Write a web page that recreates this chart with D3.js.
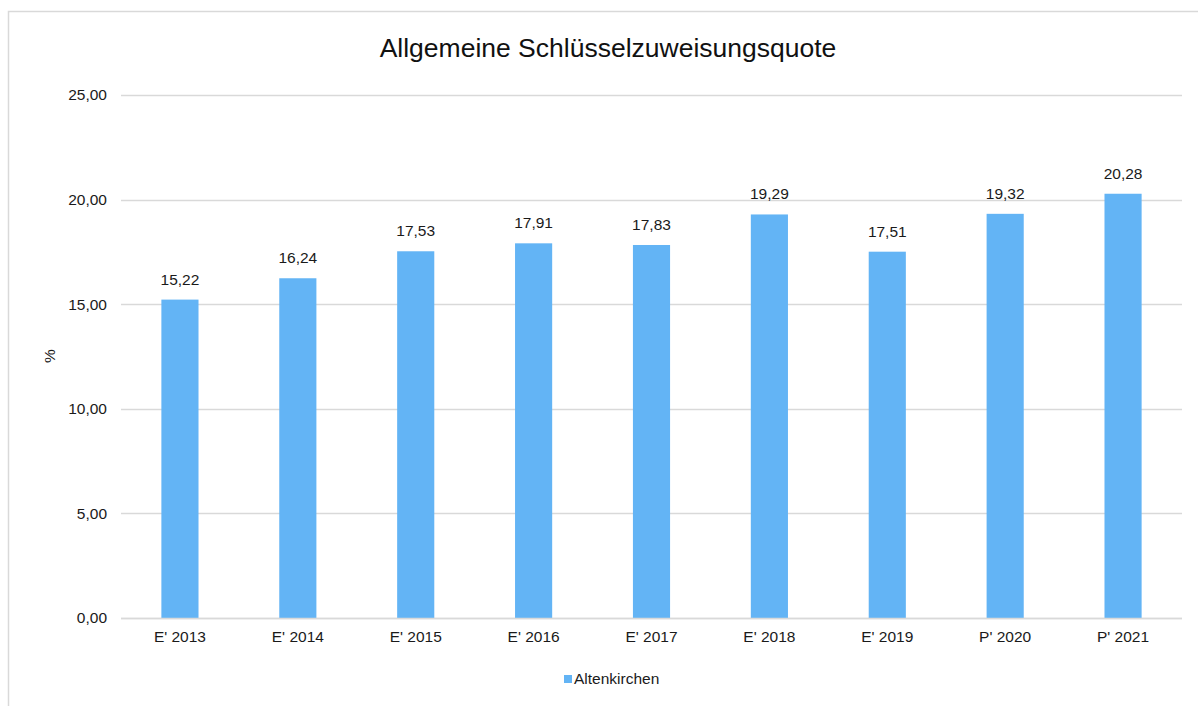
<!DOCTYPE html>
<html>
<head>
<meta charset="utf-8">
<script src="https://cdn.jsdelivr.net/npm/d3@7"></script>
<style>
  html, body { margin: 0; padding: 0; background: #fff; }
  svg { display: block; font-family: "Liberation Sans", Arial, sans-serif; }
</style>
</head>
<body>
<svg id="chart" width="1198" height="706"></svg>
<script>
// Allgemeine Schlüsselzuweisungsquote, Altenkirchen
const categories = ["E' 2013", "E' 2014", "E' 2015", "E' 2016", "E' 2017", "E' 2018", "E' 2019", "P' 2020", "P' 2021"];
const values = [15.22, 16.24, 17.53, 17.91, 17.83, 19.29, 17.51, 19.32, 20.28];
const yTicks = [0, 5, 10, 15, 20, 25];
const seriesName = "Altenkirchen";
const titleText = "Allgemeine Schlüsselzuweisungsquote";
const yAxisTitle = "%";

const svg = d3.select("#chart");
const W = 1198, H = 706;
const barColor = "#63b4f5";
const gridColor = "#d9d9d9";
const textColor = "#1a1a1a";
const labelSize = 15.5;
const fmt = v => v.toFixed(2).replace(".", ",");

// outer frame
svg.append("rect")
  .attr("x", 8.5).attr("y", 11.5)
  .attr("width", W + 10).attr("height", H)
  .attr("fill", "#fff").attr("stroke", gridColor).attr("stroke-width", 1.5);

const plot = { left: 121, right: 1182, top: 95, bottom: 618 };

const x = d3.scaleBand().domain(categories).range([plot.left, plot.right]).padding(0);
const y = d3.scaleLinear().domain([0, 25]).range([plot.bottom, plot.top]);
const barW = x.bandwidth() * 0.315;

// gridlines
svg.append("g").selectAll("line").data(yTicks).join("line")
  .attr("x1", plot.left).attr("x2", plot.right)
  .attr("y1", d => Math.round(y(d)) + 0.5).attr("y2", d => Math.round(y(d)) + 0.5)
  .attr("stroke", gridColor).attr("stroke-width", 1.3);

// y tick labels
svg.append("g").selectAll("text").data(yTicks).join("text")
  .attr("x", 107).attr("y", d => y(d))
  .attr("dy", "0.35em").attr("text-anchor", "end")
  .attr("font-size", labelSize).attr("fill", textColor)
  .text(fmt);

// bars
svg.append("g").selectAll("rect").data(values).join("rect")
  .attr("x", (d, i) => x(categories[i]) + x.bandwidth() / 2 - barW / 2)
  .attr("width", barW)
  .attr("y", d => y(d))
  .attr("height", d => y(0) - y(d))
  .attr("fill", barColor);

// value labels
svg.append("g").selectAll("text").data(values).join("text")
  .attr("x", (d, i) => x(categories[i]) + x.bandwidth() / 2)
  .attr("y", d => y(d) - 15)
  .attr("text-anchor", "middle")
  .attr("font-size", labelSize).attr("fill", textColor)
  .text(fmt);

// category labels
svg.append("g").selectAll("text").data(categories).join("text")
  .attr("x", d => x(d) + x.bandwidth() / 2)
  .attr("y", 642)
  .attr("text-anchor", "middle")
  .attr("font-size", labelSize).attr("fill", textColor)
  .text(d => d);

// axis line at zero
svg.append("line")
  .attr("x1", plot.left).attr("x2", plot.right)
  .attr("y1", Math.round(y(0)) + 0.5).attr("y2", Math.round(y(0)) + 0.5)
  .attr("stroke", gridColor).attr("stroke-width", 1.3);

// title
svg.append("text")
  .attr("x", 608).attr("y", 57)
  .attr("text-anchor", "middle")
  .attr("font-size", 26.5).attr("fill", "#111")
  .text(titleText);

// y axis title
svg.append("text")
  .attr("transform", "translate(55,356) rotate(-90)")
  .attr("text-anchor", "middle")
  .attr("font-size", labelSize).attr("fill", textColor)
  .text(yAxisTitle);

// legend
const lg = svg.append("g").attr("transform", "translate(564,679)");
lg.append("rect").attr("x", 0).attr("y", -4).attr("width", 8).attr("height", 8).attr("fill", barColor);
lg.append("text").attr("x", 10).attr("y", 0).attr("dy", "0.35em")
  .attr("font-size", labelSize).attr("fill", textColor).text(seriesName);
</script>
</body>
</html>
